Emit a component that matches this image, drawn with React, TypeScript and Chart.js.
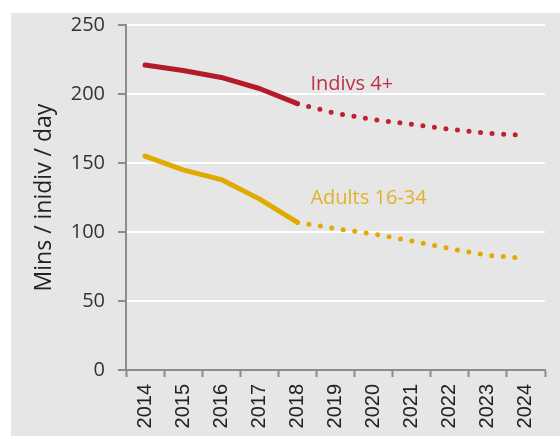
import React, { useEffect, useRef } from "react";
import { Chart, registerables } from "chart.js";

Chart.register(...registerables);

const years = ["2014", "2015", "2016", "2017", "2018", "2019", "2020", "2021", "2022", "2023", "2024"];
const indivsActual = [221, 217, 212, 204, 193, null, null, null, null, null, null];
const indivsProjected = [null, null, null, null, 193, 186, 181.5, 178, 174.5, 171.5, 170];
const adultsActual = [155, 145, 138, 124, 107, null, null, null, null, null, null];
const adultsProjected = [null, null, null, null, 107, 102.5, 98.5, 93.5, 88, 83, 81];
const yTicks = [0, 50, 100, 150, 200, 250];
const seriesLabels = ["Indivs 4+", "Adults 16-34"];
const yTitle = "Mins / inidiv / day";

const RED = "#b31b2c";
const RED_DOT = "#c0202f";
const RED_TEXT = "#c0304a";
const GOLD = "#e0aa00";
const GOLD_TEXT = "#e2b02a";
const AXIS = "#8c8c8c";
const BG = "#e6e6e6";

const bgPlugin = {
  id: "bgPlugin",
  beforeDraw(chart: any) {
    const ctx = chart.ctx;
    ctx.save();
    ctx.fillStyle = BG;
    ctx.fillRect(11, 13, chart.width - 11, chart.height - 13);
    ctx.restore();
  },
};

const labelPlugin = {
  id: "labelPlugin",
  afterDatasetsDraw(chart: any) {
    const ctx = chart.ctx;
    const x = chart.scales.x;
    const y = chart.scales.y;
    ctx.save();
    ctx.font = "20px 'Open Sans'";
    ctx.textAlign = "left";
    ctx.textBaseline = "alphabetic";
    const left = x.getPixelForValue(4) + 13;
    ctx.fillStyle = RED_TEXT;
    ctx.fillText(seriesLabels[0], left, y.getPixelForValue(203));
    ctx.fillStyle = GOLD_TEXT;
    ctx.fillText(seriesLabels[1], left, y.getPixelForValue(120));
    ctx.restore();
  },
};

export default function App() {
  const ref = useRef<HTMLCanvasElement | null>(null);
  useEffect(() => {
    if (!ref.current) return;
    const solid = (data: any[], color: string) => ({
      data,
      borderColor: color,
      borderWidth: 5,
      pointRadius: 0,
      fill: false,
      tension: 0,
      spanGaps: false,
      borderCapStyle: "round" as const,
      borderJoinStyle: "round" as const,
    });
    const dotted = (data: any[], color: string) => ({
      ...solid(data, color),
      borderDash: [0, 11.6],
    });
    const chart = new Chart(ref.current, {
      type: "line",
      data: {
        labels: years,
        datasets: [
          solid(indivsActual, RED),
          dotted(indivsProjected, RED_DOT),
          solid(adultsActual, GOLD),
          dotted(adultsProjected, GOLD),
        ],
      },
      options: {
        animation: false,
        responsive: false,
        layout: { padding: { left: 0, right: 15, top: 24, bottom: 0 } },
        plugins: { legend: { display: false }, tooltip: { enabled: false } },
        scales: {
          x: {
            type: "category",
            offset: true,
            grid: {
              offset: true,
              drawOnChartArea: false,
              drawTicks: true,
              tickLength: 7,
              tickColor: AXIS,
              tickWidth: 2,
            },
            border: { color: AXIS, width: 2 },
            ticks: {
              minRotation: 90,
              maxRotation: 90,
              padding: 7,
              color: "#222",
              font: { family: "'Liberation Sans', Arial", size: 20 },
            },
            afterFit(scale: any) {
              scale.height = 66;
            },
          },
          y: {
            min: 0,
            max: 250,
            afterBuildTicks(scale: any) {
              scale.ticks = yTicks.map((v) => ({ value: v }));
            },
            grid: {
              color: "#ffffff",
              lineWidth: 2,
              drawTicks: true,
              tickLength: 8,
              tickColor: AXIS,
              tickWidth: 2,
            },
            border: { color: AXIS, width: 2 },
            ticks: {
              padding: 13,
              color: "#333",
              font: { family: "'Open Sans'", size: 20 },
            },
            title: {
              display: true,
              text: yTitle,
              color: "#222",
              font: { family: "'Open Sans'", size: 23 },
              padding: { top: 31, bottom: 0 },
            },
            afterFit(scale: any) {
              scale.width = 126;
            },
          },
        },
      },
      plugins: [bgPlugin, labelPlugin],
    });
    return () => chart.destroy();
  }, []);
  return (
    <div style={{ position: "absolute", left: 0, top: 0, width: 560, height: 436 }}>
      <canvas ref={ref} width={560} height={436} style={{ display: "block" }} />
    </div>
  );
}
